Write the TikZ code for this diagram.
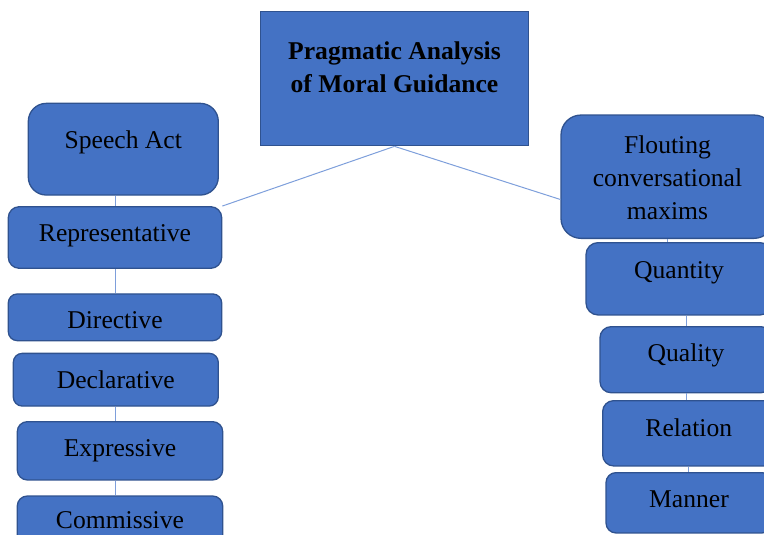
\documentclass[tikz,border=0pt]{standalone}
\usepackage{fontspec}
\setmainfont{Liberation Serif}
\definecolor{boxblue}{HTML}{4472C4}
\definecolor{boxline}{HTML}{2F528F}
\definecolor{linkblue}{HTML}{7E9FDB}

\begin{document}
\begin{tikzpicture}[x=1pt,y=-1pt,
  box/.style={draw=boxline, fill=boxblue, line width=1.3pt, inner sep=0pt,
    text=black, font=\fontsize{25.6}{33}\selectfont},
  link/.style={draw=linkblue, line width=1pt}]
\clip (0,0) rectangle (764,535);
% title
\node[box, align=center, minimum width=267.6pt, minimum height=134pt, text height=51pt, text depth=23pt] (title) at (394.5,78.7) {\textbf{Pragmatic Analysis}\\\textbf{of Moral Guidance}};
% speech acts
\node[box, rounded corners=18pt, minimum width=190pt, minimum height=91.7pt, text height=18pt, text depth=19.8pt] (speech) at (123.3,149.2) {Speech Act};
\node[box, rounded corners=11pt, minimum width=213.4pt, minimum height=61.6pt, text height=18pt, text depth=9.6pt] (rep) at (115,237.5) {Representative};
\node[box, rounded corners=9pt, minimum width=213.4pt, minimum height=46.7pt, text height=22pt, text depth=0.6pt] (dir) at (115,317.3) {Directive};
\node[box, rounded corners=9pt, minimum width=205pt, minimum height=52.7pt, text height=20pt, text depth=2.8pt] (decl) at (115.8,379.7) {Declarative};
\node[box, rounded corners=10pt, minimum width=205.4pt, minimum height=58.3pt, text height=18pt, text depth=7.6pt] (expr) at (120,450.8) {Expressive};
\node[box, rounded corners=10pt, minimum width=205.4pt, minimum height=58pt, text height=18pt, text depth=11.4pt] (comm) at (120,525) {Commissive};
% maxims
\node[box, align=center, rounded corners=20pt, minimum width=213pt, minimum height=123.3pt, text height=90pt, text depth=4.8pt] (flout) at (667.5,176.7) {Flouting\\conversational\\maxims};
\node[box, rounded corners=12pt, minimum width=186pt, minimum height=72.3pt, text height=18pt, text depth=19pt] (quant) at (679,278.8) {Quantity};
\node[box, rounded corners=11pt, minimum width=172pt, minimum height=66pt, text height=18pt, text depth=14pt] (qual) at (686,359.7) {Quality};
\node[box, rounded corners=11pt, minimum width=172.3pt, minimum height=65.3pt, text height=18pt, text depth=12.6pt] (rel) at (688.8,433.3) {Relation};
\node[box, rounded corners=10pt, minimum width=166pt, minimum height=60.3pt, text height=18pt, text depth=9pt] (man) at (689,502.8) {Manner};
% connectors
\draw[link] (title.south) -- (rep.north east);
\draw[link] (title.south) -- (flout.192);
\draw[link] (rep.north |- speech.south) -- (rep.north);
\draw[link] (rep.south) -- (dir.north);
\draw[link] (decl.south) -- (decl.south |- expr.north);
\draw[link] (expr.south -| decl.south) -- (comm.north -| decl.south);
\draw[link] (flout.south) -- (flout.south |- quant.north);
\draw[link] (qual.north |- quant.south) -- (qual.north);
\draw[link] (qual.south) -- (qual.south |- rel.north);
\draw[link] (rel.south) -- (rel.south |- man.north);
\end{tikzpicture}
\end{document}
